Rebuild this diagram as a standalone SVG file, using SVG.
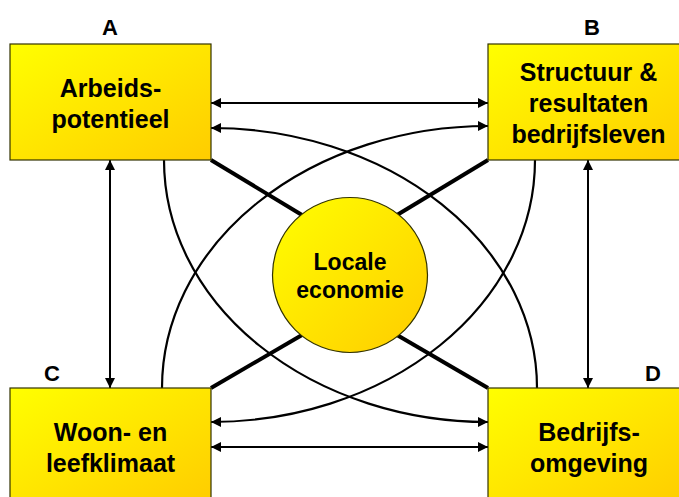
<svg xmlns="http://www.w3.org/2000/svg" width="679" height="497" viewBox="0 0 679 497">
  <style>
    .box { stroke: #333300; stroke-width: 1.2; fill: url(#gold); }
    .txt { font-family: "Liberation Sans", Arial, sans-serif; font-weight: bold; font-size: 25px; fill: #000; text-anchor: middle; }
    .ctxt { font-family: "Liberation Sans", Arial, sans-serif; font-weight: bold; font-size: 23px; fill: #000; text-anchor: middle; }
    .lbl { font-family: "Liberation Sans", Arial, sans-serif; font-weight: bold; font-size: 22px; fill: #000; text-anchor: middle; }
    .arr { stroke: #000; stroke-width: 2; fill: none; marker-end: url(#ah); }
    .dbl { marker-start: url(#ah); }
    .arc { stroke: #000; stroke-width: 2.2; fill: none; marker-end: url(#ah); }
    .thick { stroke: #000; stroke-width: 4; fill: none; }
  </style>
  <defs>
    <linearGradient id="gold" x1="0" y1="0" x2="1" y2="1">
      <stop offset="0" stop-color="#FFFF00"/>
      <stop offset="1" stop-color="#FFCC00"/>
    </linearGradient>
    <marker id="ah" markerUnits="userSpaceOnUse" markerWidth="12" markerHeight="10" refX="10" refY="5" orient="auto-start-reverse" viewBox="0 0 12 10">
      <path d="M0,0 L10,5 L0,10 Z" fill="#000"/>
    </marker>
  </defs>

  <g id="connectors">
    <line class="thick" x1="211" y1="160" x2="302" y2="215"/>
    <line class="thick" x1="488" y1="160" x2="397" y2="215"/>
    <line class="thick" x1="211" y1="388" x2="302" y2="335"/>
    <line class="thick" x1="488" y1="388" x2="397" y2="335"/>

    <line class="arr dbl" x1="211" y1="103" x2="488" y2="103"/>
    <line class="arr dbl" x1="211" y1="447" x2="488" y2="447"/>
    <line class="arr dbl" x1="110" y1="160" x2="110" y2="388"/>
    <line class="arr dbl" x1="588" y1="160" x2="588" y2="388"/>

    <path class="arc" d="M164,160 A324,262 0 0 0 488,422"/>
    <path class="arc" d="M535,160 A324,262 0 0 1 211,422"/>
    <path class="arc" d="M162,388 A326,262 0 0 1 488,126"/>
    <path class="arc" d="M537,388 A326,260 0 0 0 211,128"/>
  </g>

  <g id="nodeA">
    <rect class="box" x="10" y="44" width="201" height="116"/>
    <text class="txt" x="110.5" y="97">Arbeids-</text>
    <text class="txt" x="110.5" y="128">potentieel</text>
    <text class="lbl" x="110" y="35">A</text>
  </g>
  <g id="nodeB">
    <rect class="box" x="488" y="44" width="201" height="116"/>
    <text class="txt" x="588.5" y="81">Structuur &amp;</text>
    <text class="txt" x="588.5" y="112">resultaten</text>
    <text class="txt" x="588.5" y="143">bedrijfsleven</text>
    <text class="lbl" x="592" y="35">B</text>
  </g>
  <g id="nodeC">
    <rect class="box" x="10" y="388" width="201" height="116"/>
    <text class="txt" x="110.5" y="441">Woon- en</text>
    <text class="txt" x="110.5" y="472">leefklimaat</text>
    <text class="lbl" x="52" y="381">C</text>
  </g>
  <g id="nodeD">
    <rect class="box" x="488" y="388" width="201" height="116"/>
    <text class="txt" x="589" y="441">Bedrijfs-</text>
    <text class="txt" x="589" y="472">omgeving</text>
    <text class="lbl" x="653" y="381">D</text>
  </g>
  <g id="center">
    <circle cx="350" cy="275" r="77.5" fill="url(#gold)" stroke="#333300" stroke-width="1.2"/>
    <text class="ctxt" x="350" y="270">Locale</text>
    <text class="ctxt" x="350" y="298">economie</text>
  </g>
</svg>
